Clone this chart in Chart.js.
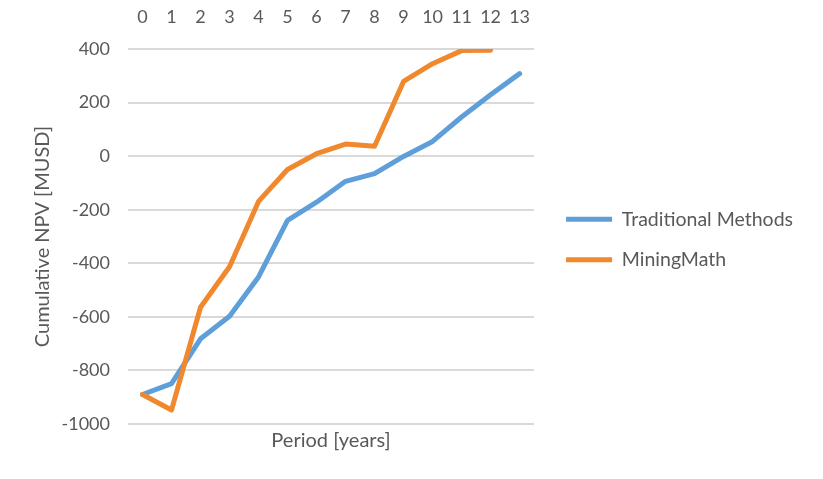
<!DOCTYPE html>
<html>
<head>
<meta charset="utf-8">
<script src="https://cdn.jsdelivr.net/npm/chart.js@4/dist/chart.umd.min.js"></script>
<style>
  html, body { margin: 0; padding: 0; background: #ffffff; }
  #wrap { width: 823px; height: 479px; position: relative; }
</style>
</head>
<body>
<div id="wrap"><canvas id="c" width="823" height="479"></canvas></div>
<script>
const periods = ['0','1','2','3','4','5','6','7','8','9','10','11','12','13'];
const traditionalMethods = [-890, -849, -682, -598, -451, -240, -172, -94, -65, -1, 55, 146, 229, 308];
const miningMath = [-890, -948, -564, -413, -169, -50, 9, 45, 37, 279, 345, 394, 395];
const yTicks = [-1000, -800, -600, -400, -200, 0, 200, 400];

const TEXT = '#595959';
const FONT = 'Lato';

new Chart(document.getElementById('c'), {
  type: 'line',
  data: {
    labels: periods,
    datasets: [
      {
        label: 'Traditional Methods',
        data: traditionalMethods,
        borderColor: '#5E9FD9',
        backgroundColor: '#5E9FD9',
        borderWidth: 5,
        pointRadius: 0,
        borderCapStyle: 'round',
        borderJoinStyle: 'round',
        tension: 0,
        order: 1
      },
      {
        label: 'MiningMath',
        data: miningMath,
        borderColor: '#F0882E',
        backgroundColor: '#F0882E',
        borderWidth: 5,
        pointRadius: 0,
        borderCapStyle: 'round',
        borderJoinStyle: 'round',
        tension: 0,
        order: 0
      }
    ]
  },
  options: {
    responsive: false,
    animation: false,
    layout: { padding: { top: 0, left: 0, bottom: 0, right: 20 } },
    plugins: {
      tooltip: { enabled: false },
      legend: {
        position: 'right',
        maxWidth: 400,
        labels: {
          usePointStyle: true,
          pointStyle: 'line',
          pointStyleWidth: 46,
          padding: 21,
          color: TEXT,
          font: { family: FONT, size: 19.5 },
          sort: (a, b) => a.datasetIndex - b.datasetIndex
        }
      }
    },
    scales: {
      x: {
        type: 'category',
        position: 'top',
        offset: true,
        grid: { display: false, drawTicks: false },
        border: { display: false },
        ticks: { color: TEXT, font: { family: FONT, size: 18 }, padding: 21, maxRotation: 0, autoSkip: false },
        afterFit: (s) => { s.height = 49; }
      },
      x2: {
        type: 'category',
        position: 'bottom',
        labels: periods,
        offset: true,
        grid: { display: false, drawTicks: false },
        border: { display: false },
        ticks: { display: false },
        title: { display: true, text: 'Period [years]', color: TEXT, font: { family: FONT, size: 20 }, padding: { top: 0, bottom: 26 } },
        afterFit: (s) => { s.height = 55; }
      },
      y: {
        position: 'left',
        min: -1000,
        max: 400,
        afterBuildTicks: (s) => { s.ticks = yTicks.map(v => ({ value: v })); },
        grid: { color: '#D9D9D9', lineWidth: 2, drawTicks: false },
        border: { display: false },
        ticks: { color: TEXT, font: { family: FONT, size: 18 }, padding: 18, callback: (v) => String(v) },
        title: { display: true, text: 'Cumulative NPV [MUSD]', color: TEXT, font: { family: FONT, size: 20 }, padding: { top: 31, bottom: 0 } },
        afterFit: (s) => { s.width = 128; }
      },
      y2: {
        position: 'right',
        min: 0,
        max: 1,
        grid: { display: false, drawTicks: false },
        border: { display: false },
        ticks: { display: false },
        afterFit: (s) => { s.width = 11; }
      }
    }
  }
});
</script>
</body>
</html>
